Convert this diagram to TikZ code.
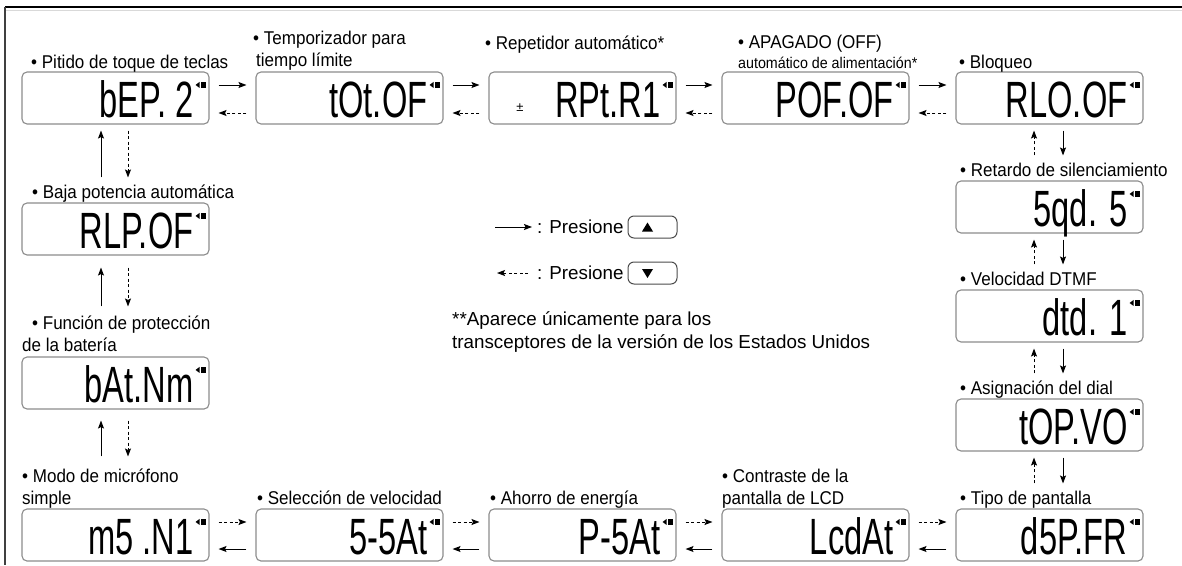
\documentclass[tikz,border=0pt]{standalone}
\usepackage{fontspec}
\setmainfont{Liberation Sans}
\newfontfamily\lblfont[FakeStretch=0.92]{Liberation Sans}
\usepackage{graphicx}
\usetikzlibrary{arrows.meta,calc}
\tikzset{
 lcdbox/.style={draw=black!45, line width=1.1pt, rounded corners=5pt, fill=white, minimum width=187pt, minimum height=52pt, inner sep=0pt},
 lcdtxt/.style={font=\fontsize{51}{51}\selectfont, inner sep=0pt, anchor=base east},
 lbl/.style={font=\lblfont\fontsize{18.5}{18.5}\selectfont, inner sep=0pt, anchor=base west},
 smalllbl/.style={font=\lblfont\fontsize{15.5}{15.5}\selectfont, inner sep=0pt, anchor=base west},
 legtxt/.style={font=\fontsize{18.8}{18.8}\selectfont, inner sep=0pt, anchor=base west},
 fwd/.style={-{Stealth[length=8pt,width=6pt,inset=1.5pt]}, line width=1pt},
 bwd/.style={fwd, dash pattern=on 3pt off 2.5pt},
 keybtn/.style={draw=black!70, line width=1pt, rounded corners=6pt, minimum width=49pt, minimum height=22pt, inner sep=0pt},
}
\newcommand\lcdicon[1]{%
 \fill ($(#1.north east)+(-14,13.5)$) -- ($(#1.north east)+(-10,10.5)$) -- ($(#1.north east)+(-10,16.5)$) -- cycle;
 \fill ($(#1.north east)+(-9,10.5)$) rectangle ($(#1.north east)+(-4,16.5)$);}
\newcommand\lcdtext[2]{\node[lcdtxt] (t#1) at ($(#1.north east)+(-16,46)$) {\scalebox{0.64}[1]{#2}}; \lcdicon{#1}}
\begin{document}
\begin{tikzpicture}[x=1pt,y=-1pt]
\useasboundingbox (0,0) rectangle (1182,565);
\fill[white] (0,0) rectangle (1182,565);
% frame
\draw[line width=2pt] (5,7) -- (1182,7);
\draw[black!15, line width=0.8pt] (6,10) -- (1182,10);
\draw[black!75, line width=1.3pt] (5,7) -- (5,565);

% top row boxes
\node[lcdbox] (b1) at (115.5,98) {};
\node[lcdbox] (b2) at (349.5,98) {};
\node[lcdbox] (b3) at (582.5,98) {};
\node[lcdbox] (b4) at (815.5,98) {};
\node[lcdbox] (b5) at (1049.5,98) {};
% right column
\node[lcdbox] (r1) at (1049.5,207) {};
\node[lcdbox] (r2) at (1049.5,316) {};
\node[lcdbox] (r3) at (1049.5,425) {};
% left column
\node[lcdbox] (l1) at (115.5,229) {};
\node[lcdbox] (l2) at (115.5,383) {};
% bottom row
\node[lcdbox] (m1) at (115.5,535) {};
\node[lcdbox] (m2) at (349.5,535) {};
\node[lcdbox] (m3) at (582.5,535) {};
\node[lcdbox] (m4) at (815.5,535) {};
\node[lcdbox] (m5) at (1049.5,535) {};

% LCD readouts
\lcdtext{b1}{bEP. 2}
\lcdtext{b2}{tOt.OF}
\lcdtext{b3}{RPt.R1}
\lcdtext{b4}{POF.OF}
\lcdtext{b5}{RLO.OF}
\lcdtext{r1}{5qd. 5}
\lcdtext{r2}{dtd. 1}
\lcdtext{r3}{tOP.VO}
\lcdtext{l1}{RLP.OF}
\lcdtext{l2}{bAt.Nm}
\lcdtext{m1}{m5 .N1}
\lcdtext{m2}{5-5At}
\lcdtext{m3}{P-5At}
\lcdtext{m4}{LcdAt}
\lcdtext{m5}{d5P.FR}
\node[font=\fontsize{13}{13}\selectfont, inner sep=0pt] (pm) at (520,108) {±};

% labels
\node[lbl] (n1) at (31,68) {• Pitido de toque de teclas};
\node[lbl] (n2a) at (253,44) {• Temporizador para};
\node[lbl] (n2b) at (256,66) {tiempo límite};
\node[lbl] (n3) at (485,49) {• Repetidor automático*};
\node[lbl] (n4a) at (738,48) {• APAGADO (OFF)};
\node[smalllbl] (n4b) at (738,68) {automático de alimentación*};
\node[lbl] (n5) at (959,68) {• Bloqueo};
\node[lbl] (nr1) at (960,176) {• Retardo de silenciamiento};
\node[lbl] (nr2) at (960,285) {• Velocidad DTMF};
\node[lbl] (nr3) at (960,394) {• Asignación del dial};
\node[lbl] (nm5) at (960,504) {• Tipo de pantalla};
\node[lbl] (nl1) at (32,198) {• Baja potencia automática};
\node[lbl] (nl2a) at (32,329) {• Función de protección};
\node[lbl] (nl2b) at (22,351) {de la batería};
\node[lbl] (nm1a) at (22,482) {• Modo de micrófono};
\node[lbl] (nm1b) at (22,504) {simple};
\node[lbl] (nm2) at (257,504) {• Selección de velocidad};
\node[lbl] (nm3) at (490,504) {• Ahorro de energía};
\node[lbl] (nm4a) at (722,482) {• Contraste de la};
\node[lbl] (nm4b) at (722,504) {pantalla de LCD};

% top row arrows
\foreach \a/\b in {b1/b2,b2/b3,b3/b4,b4/b5}{
 \draw[fwd] ($(\a.east)+(9,-13)$) -- ($(\b.west)+(-9,-13)$);
 \draw[bwd] ($(\b.west)+(-9,15)$) -- ($(\a.east)+(9,15)$);
}
% bottom row arrows
\foreach \a/\b in {m1/m2,m2/m3,m3/m4,m4/m5}{
 \draw[bwd] ($(\a.east)+(9,-13)$) -- ($(\b.west)+(-9,-13)$);
 \draw[fwd] ($(\b.west)+(-9,14)$) -- ($(\a.east)+(9,14)$);
}
% left column arrows
\draw[fwd] ($(l1.north)+(-14.5,-25)$) -- ($(b1.south)+(-14.5,6)$);
\draw[bwd] ($(b1.south)+(12.5,6)$) -- ($(l1.north)+(12.5,-25)$);
\draw[fwd] ($(l2.north)+(-14.5,-50)$) -- ($(l1.south)+(-14.5,12)$);
\draw[bwd] ($(l1.south)+(12.5,12)$) -- ($(l2.north)+(12.5,-50)$);
\draw[fwd] ($(m1.north)+(-14.5,-52)$) -- ($(l2.south)+(-14.5,11)$);
\draw[bwd] ($(l2.south)+(12.5,11)$) -- ($(m1.north)+(12.5,-52)$);
% right column arrows
\foreach \a/\b in {b5/r1,r1/r2,r2/r3,r3/m5}{
 \draw[fwd] ($(\a.south)+(13.5,6)$) -- ($(\b.north)+(13.5,-25)$);
 \draw[bwd] ($(\b.north)+(-15.5,-25)$) -- ($(\a.south)+(-15.5,6)$);
}

% legend
\coordinate (la1) at (495,227);
\coordinate (la2) at (532,227);
\draw[fwd] (la1) -- (la2);
\node[legtxt] (lt1) at (537,233.5) {: Presione};
\node[keybtn] (k1) at (652.5,227) {};
\fill ($(k1.center)+(-5,-4.5)$) -- ($(k1.center)+(0.5,4.5)$) -- ($(k1.center)+(-10.5,4.5)$) -- cycle;
\coordinate (lb1) at (528,273);
\coordinate (lb2) at (497,273);
\draw[bwd] (lb1) -- (lb2);
\node[legtxt] (lt2) at (537,279.5) {: Presione};
\node[keybtn] (k2) at (652.5,273) {};
\fill ($(k2.center)+(-5,5)$) -- ($(k2.center)+(0.5,-4)$) -- ($(k2.center)+(-10.5,-4)$) -- cycle;

% footnote
\node[legtxt] (fn1) at (452,325) {**Aparece únicamente para los};
\node[legtxt] (fn2) at (452,348) {transceptores de la versión de los Estados Unidos};
\end{tikzpicture}
\end{document}
